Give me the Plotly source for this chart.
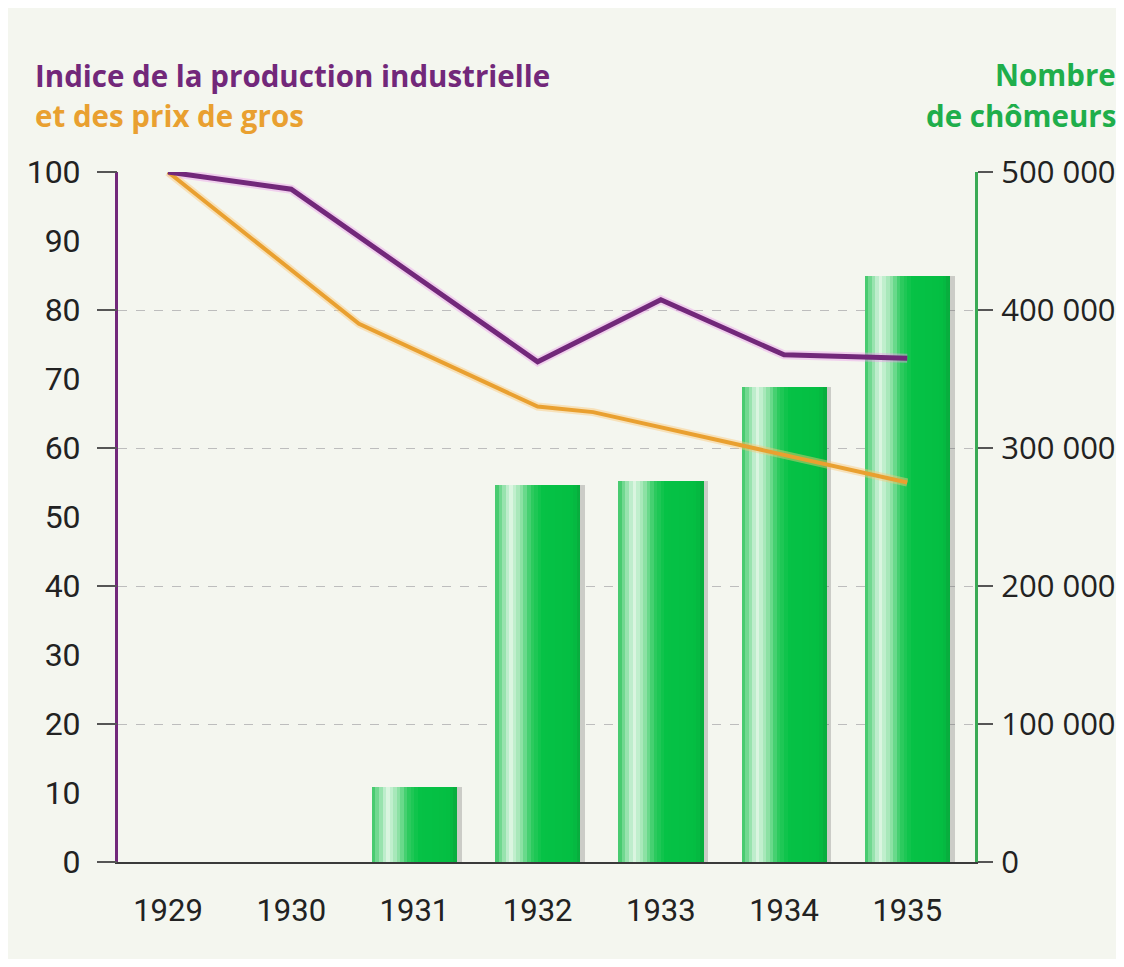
import plotly.graph_objects as go

# ---------------- data ----------------
years = [1929, 1930, 1931, 1932, 1933, 1934, 1935]
production = [100, 97.5, 85, 72.5, 81.5, 73.5, 73]          # indice production industrielle
prix_x = [1929, 1930.55, 1932, 1932.45, 1935]                # vertices of the price line
prix_gros = [100, 78, 66, 65.2, 55]                           # indice des prix de gros
chomeurs = [0, 0, 54000, 273000, 276000, 344000, 425000]     # nombre de chômeurs
left_ticks = [0, 10, 20, 30, 40, 50, 60, 70, 80, 90, 100]
right_ticks = [0, 100000, 200000, 300000, 400000, 500000]

# ---------------- layout constants ----------------
OFF = 8                      # page body margin
W, H = 1124 - 2 * OFF, 967 - 2 * OFF
L = 118 - OFF
T = 172 - OFF
R = W - (975 - OFF)
B = H - (862 - OFF)
PW, PH = W - L - R, H - T - B
BG = "#f4f6ef"
PURPLE = "#72287a"
ORANGE = "#e9a030"
GREEN_T = "#1fae4b"
COND = "Roboto, sans-serif"
WIDE = "Open Sans, Noto Sans, sans-serif"


def px_x(p):
    return (p - OFF - L) / PW


def px_y(p):
    return (H - B - (p - OFF)) / PH


# gradient across each bar (styling)
stops = [
    (0.00, (52, 196, 96)),
    (0.07, (120, 218, 150)),
    (0.18, (222, 246, 228)),
    (0.30, (150, 228, 172)),
    (0.42, (50, 203, 98)),
    (0.55, (6, 194, 70)),
    (0.92, (4, 190, 66)),
    (1.00, (10, 168, 60)),
]


def grad(t):
    for (a, ca), (b, cb) in zip(stops[:-1], stops[1:]):
        if a <= t <= b:
            f = (t - a) / (b - a)
            c = [round(ca[k] + (cb[k] - ca[k]) * f) for k in range(3)]
            return "rgb(%d,%d,%d)" % tuple(c)
    return "rgb(%d,%d,%d)" % stops[-1][1]


fig = go.Figure()

BW = 0.69
N = 24
# soft shadow on right of bars
fig.add_trace(go.Bar(x=years, y=chomeurs, width=0.05, offset=BW / 2 - 0.01,
                     marker=dict(color="rgba(80,80,80,0.25)", line_width=0),
                     yaxis="y", hoverinfo="skip", showlegend=False))
for i in range(N):
    t = (i + 0.5) / N
    fig.add_trace(go.Bar(x=years, y=chomeurs, width=BW / N * 1.05,
                         offset=-BW / 2 + i * BW / N,
                         marker=dict(color=grad(t), line_width=0),
                         yaxis="y", hoverinfo="skip", showlegend=False))

# halos
fig.add_trace(go.Scatter(x=years, y=production, mode="lines", yaxis="y2",
                         line=dict(color="rgba(235,160,235,0.45)", width=9),
                         hoverinfo="skip", showlegend=False))
fig.add_trace(go.Scatter(x=prix_x, y=prix_gros, mode="lines", yaxis="y2",
                         line=dict(color="rgba(250,200,120,0.45)", width=8),
                         hoverinfo="skip", showlegend=False))
fig.add_trace(go.Scatter(x=prix_x, y=prix_gros, mode="lines", yaxis="y2",
                         line=dict(color=ORANGE, width=4), showlegend=False,
                         name="Prix de gros"))
fig.add_trace(go.Scatter(x=years, y=production, mode="lines", yaxis="y2",
                         line=dict(color=PURPLE, width=5), showlegend=False,
                         name="Production industrielle"))
# dummy trace to activate yaxis3 (tick marks every 20)
fig.add_trace(go.Scatter(x=[years[0]], y=[0], mode="markers", yaxis="y3",
                         marker=dict(opacity=0), hoverinfo="skip", showlegend=False))

fig.update_layout(
    width=W, height=H,
    margin=dict(l=L, r=R, t=T, b=B, autoexpand=False),
    paper_bgcolor=BG, plot_bgcolor=BG,
    barmode="overlay", bargap=0,
    separators=", ",
    showlegend=False,
    xaxis=dict(range=[1928.594, 1935.55], tickvals=years, ticktext=[str(y) for y in years],
               showgrid=False, zeroline=False, showline=True, linecolor="#3a3a3a",
               linewidth=2, ticks="", ticklabelstandoff=20,
               tickfont=dict(family=COND, size=31, color="#222222")),
    yaxis=dict(side="right", range=[0, 500000], tickvals=right_ticks,
               tickformat=",d", showline=True, linecolor="#3aaa55", linewidth=3,
               ticks="outside", ticklen=15, tickwidth=2, tickcolor="#555555",
               showgrid=True, gridcolor="#bdbdbd", griddash="dash", gridwidth=1,
               zeroline=False, ticklabelstandoff=2,
               tickfont=dict(family=WIDE, size=31, color="#222222")),
    yaxis2=dict(overlaying="y", side="left", range=[0, 100], tickvals=left_ticks,
                showline=True, linecolor=PURPLE, linewidth=3, ticks="",
                showgrid=False, zeroline=False, ticklabelstandoff=28,
                tickfont=dict(family=COND, size=32, color="#222222")),
    yaxis3=dict(overlaying="y", side="left", range=[0, 100], dtick=20,
                showticklabels=False, showline=False, showgrid=False, zeroline=False,
                ticks="outside", ticklen=20, tickwidth=2, tickcolor="#555555"),
    annotations=[
        dict(text="<b>Indice de la production industrielle</b>", xref="paper", yref="paper",
             x=px_x(33), y=px_y(75), xanchor="left", yanchor="middle", showarrow=False,
             font=dict(family=WIDE, size=29.5, color=PURPLE)),
        dict(text="<b>et des prix de gros</b>", xref="paper", yref="paper",
             x=px_x(33), y=px_y(115), xanchor="left", yanchor="middle", showarrow=False,
             font=dict(family=WIDE, size=29.5, color=ORANGE)),
        dict(text="<b>Nombre</b>", xref="paper", yref="paper",
             x=px_x(1118), y=px_y(74), xanchor="right", yanchor="middle", showarrow=False,
             font=dict(family=WIDE, size=29.5, color=GREEN_T)),
        dict(text="<b>de chômeurs</b>", xref="paper", yref="paper",
             x=px_x(1118), y=px_y(115), xanchor="right", yanchor="middle", showarrow=False,
             font=dict(family=WIDE, size=29.5, color=GREEN_T)),
    ],
)

fig.write_html("out.html")
